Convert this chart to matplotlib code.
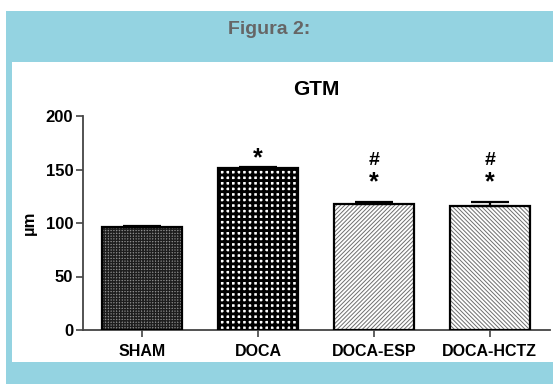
import matplotlib.pyplot as plt
import matplotlib.patches as mpatches

groups = ["SHAM", "DOCA", "DOCA-ESP", "DOCA-HCTZ"]
gtm_mean = [96, 151, 118, 115.5]
gtm_sem = [1.0, 1.5, 2.0, 4.0]
star_marks = ["", "*", "*", "*"]
hash_marks = ["", "", "#", "#"]

plt.rcParams['font.family'] = ['Liberation Sans', 'DejaVu Sans']
plt.rcParams['font.weight'] = 'bold'

W, H = 553, 384
fig = plt.figure(figsize=(W / 100, H / 100), dpi=100)
fig.patch.set_facecolor('white')

# blue frame and white panel behind the plot
blue = '#94d3e1'
fig.patches.append(mpatches.Rectangle((6 / W, 0), 1 - 6 / W, 1 - 11 / H,
                                      transform=fig.transFigure, facecolor=blue,
                                      edgecolor='none', zorder=-2))
fig.patches.append(mpatches.Rectangle((12 / W, 22 / H), 1 - 12 / W, (362 - 62) / H,
                                      transform=fig.transFigure, facecolor='white',
                                      edgecolor='none', zorder=-1))
fig.text(269 / W, 1 - 30 / H, "Figura 2:", ha='center', va='center',
         fontsize=14, fontweight='bold', color='#666666')

ax = fig.add_axes([83 / W, 1 - 330 / H, (550 - 83) / W, (330 - 116) / H])
ax.set_facecolor('none')

x = list(range(len(groups)))
width = 0.69
# fill colour, hatch colour, hatch pattern, hatch line width
styles = [
    ('#8e8e8e', '#1e1e1e', '++++++', 1.0),
    ('white', 'black', '+++', 2.1),
    ('white', '#6e6e6e', '////////', 0.7),
    ('white', '#6e6e6e', '\\\\\\\\\\\\\\\\', 0.7),
]
for xi, h, (fc, hc, hatch, hlw) in zip(x, gtm_mean, styles):
    with plt.rc_context({'hatch.linewidth': hlw}):
        ax.bar(xi, h, width=width, color=fc, edgecolor=hc, hatch=hatch,
               linewidth=0, zorder=2)
    ax.bar(xi, h, width=width, fill=False, edgecolor='black', linewidth=1.6, zorder=3)

ax.errorbar(x, gtm_mean, yerr=[[0] * len(x), gtm_sem], fmt='none', ecolor='black',
            elinewidth=1.6, capsize=14, capthick=1.6, zorder=4)

# significance marks above the bars
for xi, s, hs in zip(x, star_marks, hash_marks):
    if s:
        y_star = 160 if not hs else 138
        ax.text(xi, y_star, s, ha='center', va='center', fontsize=18, fontweight='bold')
    if hs:
        ax.text(xi, 158, hs, ha='center', va='center', fontsize=14, fontweight='bold')

ax.set_xlim(-0.51, 3.52)
ax.set_ylim(0, 200)
ax.set_yticks([0, 50, 100, 150, 200])
ax.set_xticks(x)
ax.set_xticklabels(groups, fontsize=11.5, fontweight='bold')
ax.tick_params(axis='y', labelsize=12, length=5, width=1.2, color='#444444', pad=2)
ax.tick_params(axis='x', length=5, width=1.2, color='#444444', pad=5)
for lab in ax.get_yticklabels():
    lab.set_fontweight('bold')

for side in ['top', 'right']:
    ax.spines[side].set_visible(False)
for side in ['left', 'bottom']:
    ax.spines[side].set_color('#444444')
    ax.spines[side].set_linewidth(1.3)

ax.set_ylabel("µm", fontsize=12, fontweight='bold', labelpad=6)
ax.set_title("GTM", fontsize=15, fontweight='bold', pad=15)

fig.savefig("out.png", dpi=100, facecolor=fig.get_facecolor())
